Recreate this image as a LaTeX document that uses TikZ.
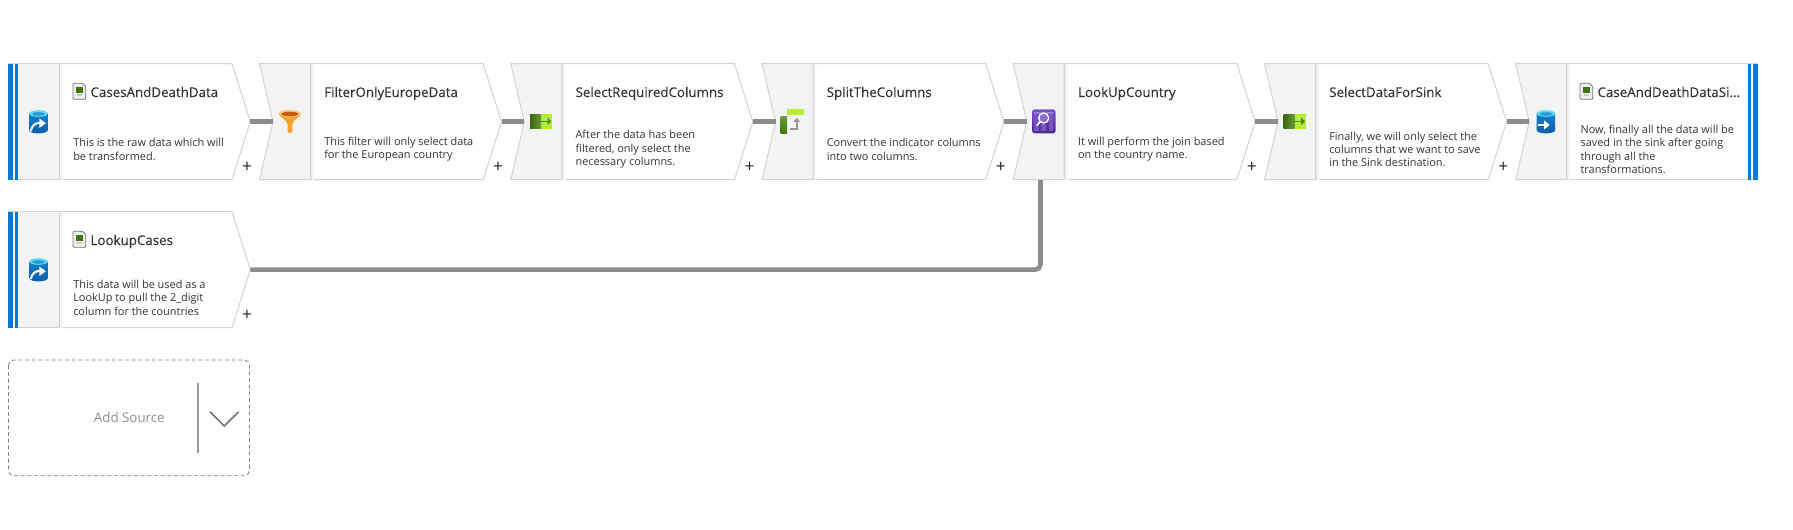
\documentclass[tikz,border=0pt]{standalone}
\usepackage{fontspec}
\setmainfont{Open Sans}
\newfontfamily\titlefont[FakeBold=0.12]{Open Sans}
\usetikzlibrary{arrows.meta}
\definecolor{cardline}{HTML}{D2D2D2}
\definecolor{cardgrey}{HTML}{F3F3F3}
\definecolor{azure}{HTML}{0078D4}
\definecolor{conngrey}{HTML}{8C8C8C}
\definecolor{inktext}{HTML}{333333}
\definecolor{dbblue}{HTML}{0A6FC4}
\definecolor{dbdark}{HTML}{0A5CA8}
\definecolor{dbcyan}{HTML}{5ADCF2}
\definecolor{orng}{HTML}{F8A02B}
\definecolor{orngd}{HTML}{C85A0C}
\definecolor{grdark}{HTML}{4E8A14}
\definecolor{grlight}{HTML}{B4EC36}
\definecolor{purd}{HTML}{4B2A8C}
\definecolor{purm}{HTML}{7A52C4}
\definecolor{purl}{HTML}{A48BE0}
\tikzset{
  x=0.75pt,y=-0.75pt,
  cardshape/.style={draw=cardline,line width=0.75pt,fill=white,line join=round},
  greypart/.style={draw=cardline,line width=0.75pt,fill=cardgrey},
  conn/.style={draw=conngrey,line width=3.4pt},
  cardtitle/.style={anchor=base west,inner sep=0pt,text=inktext,font=\titlefont\fontsize{10pt}{12pt}\selectfont},
  carddesc/.style={anchor=west,inner sep=0pt,text=inktext,align=left,font=\fontsize{8.2pt}{10.05pt}\selectfont},
  plusmark/.style={inner sep=0pt,text=black!85,font=\fontsize{13pt}{13pt}\selectfont},
  csvtext/.style={inner sep=0pt,text=black!60,font=\fontsize{2.2pt}{2.2pt}\selectfont},
}
\newcommand{\bodyglow}{\path[left color=black!7,right color=white] (51.4,0.4) rectangle (54.5,115.6);}
\newcommand{\midcard}[3]{%
 \begin{scope}[shift={(#2,#3)}]
  \draw[cardshape] (51,0) -- (223.7,0) -- (242,58) -- (223.7,116) -- (51,116) -- cycle;
  \bodyglow
  \draw[greypart] (0,0) -- (51,0) -- (51,116) -- (0,116) -- (13.5,58) -- cycle;
  \coordinate (tip#1) at (242,58);
  \coordinate (notch#1) at (13.5,58);
  \node[plusmark] (plus#1) at (238.7,104) {+};
 \end{scope}}
\newcommand{\srccard}[3]{%
 \begin{scope}[shift={(#2,#3)}]
  \draw[cardshape] (51,0) -- (223.7,0) -- (242,58) -- (223.7,116) -- (51,116) -- cycle;
  \bodyglow
  \fill[cardgrey] (0,0) rectangle (51,116);
  \draw[cardline,line width=0.75pt] (0,0) -- (51,0) -- (51,116) -- (0,116);
  \fill[azure] (0,0) rectangle (5,116);
  \fill[azure] (7,0) rectangle (9.4,116);
  \coordinate (tip#1) at (242,58);
  \node[plusmark] (plus#1) at (238.7,104) {+};
 \end{scope}}
\newcommand{\sinkcard}[3]{%
 \begin{scope}[shift={(#2,#3)}]
  \draw[cardshape] (51,0) rectangle (242,116);
  \bodyglow
  \draw[greypart] (0,0) -- (51,0) -- (51,116) -- (0,116) -- (13.5,58) -- cycle;
  \fill[azure] (232.6,0) rectangle (235,116);
  \fill[azure] (237,0) rectangle (242,116);
  \coordinate (notch#1) at (13.5,58);
 \end{scope}}
\newcommand{\dbbody}[2]{%
 \begin{scope}[shift={(#1,#2)}]
  \path[top color=dbblue!85!dbcyan,bottom color=dbdark,draw=none]
    (0,3.5) -- (0,20) .. controls (0,24.5) and (18.5,24.5) .. (18.5,20) -- (18.5,3.5) -- cycle;
  \fill[dbcyan] (9.25,3.5) ellipse [x radius=9.25,y radius=3.3];
  \fill[dbblue!60!dbcyan] (9.25,4) ellipse [x radius=6.5,y radius=1.8];
 \end{scope}}
\newcommand{\dbin}[2]{\dbbody{#1}{#2}%
 \begin{scope}[shift={(#1,#2)}]
  \draw[white,line width=1.5pt] (1.5,21) .. controls (2.5,15) and (7,12.5) .. (11,13);
  \fill[white] (10,8.5) -- (16.5,13.3) -- (10,18) -- cycle;
 \end{scope}}
\newcommand{\dbout}[2]{\dbbody{#1}{#2}%
 \begin{scope}[shift={(#1,#2)}]
  \draw[white,line width=1.2pt] (1,15) -- (9,15);
  \fill[white] (7.5,10.5) -- (13,15) -- (7.5,19.5) -- cycle;
 \end{scope}}
\newcommand{\csvicon}[2]{%
 \begin{scope}[shift={(#1,#2)}]
  \draw[black!55,fill=black!6,line width=0.6pt,rounded corners=0.8] (0,0) -- (9.5,0) -- (12.8,3.3) -- (12.8,16) -- (0,16) -- cycle;
  \fill[grdark!85!black] (2.8,3.3) rectangle (10,9.5);
  \node[csvtext] at (6.4,12.6) {CSV};
 \end{scope}}
\newcommand{\selicon}[2]{%
 \begin{scope}[shift={(#1,#2)}]
  \fill[grlight] (11,0) rectangle (22.3,14.7);
  \path[left color=grdark!75!black,right color=grdark!85!white] (0,0) rectangle (11,14.7);
  \draw[grdark,line width=0.9pt] (11,7.4) -- (19,7.4);
  \fill[grdark] (17.5,3.6) -- (21.3,7.4) -- (17.5,11.2) -- cycle;
 \end{scope}}
\begin{document}
\begin{tikzpicture}
\useasboundingbox (0,0) rectangle (1793,529);
\srccard{A}{8.3}{63.7}
\midcard{B}{259.5}{63.7}
\midcard{C}{510.8}{63.7}
\midcard{D}{762}{63.7}
\midcard{E}{1013.2}{63.7}
\midcard{F}{1264.5}{63.7}
\sinkcard{G}{1515.7}{63.7}
\srccard{H}{8.3}{211.7}
\coordinate (Edown) at (1040.5,180);
\draw[conn,rounded corners=4] (tipH) -- (tipH -| Edown) -- (Edown);
\draw[conn] (tipA) -- (notchB);
\draw[conn] (tipB) -- (notchC);
\draw[conn] (tipC) -- (notchD);
\draw[conn] (tipD) -- (notchE);
\draw[conn] (tipE) -- (notchF);
\draw[conn] (tipF) -- (notchG);
\dbin{29.3}{110}
\dbin{29.3}{258}
\dbout{1536.7}{110}
\csvicon{73}{83.3}
\csvicon{73}{231.3}
\csvicon{1580}{83.3}
% funnel
\fill[orng] (278.7,113.5) .. controls (279,113) and (301,113) .. (301,113.5) .. controls (301,117) and (293.5,119) .. (292.3,124) -- (292.3,132.7) -- (287.5,132.7) -- (287.5,124) .. controls (286.5,119) and (278.7,117) .. (278.7,113.5) -- cycle;
\fill[orng!55!white] (289.85,113.5) ellipse [x radius=11.2,y radius=3.6];
\fill[orngd] (289.85,114) ellipse [x radius=8.5,y radius=2.3];
\selicon{530}{114}
\selicon{1283.7}{114}
% split icon
\path[top color=grdark!85!white,bottom color=grdark!85!black] (780.7,116) rectangle (787,133.3);
\fill[grlight] (787,109.3) rectangle (804,115.4);
\draw[black!40,line width=1.3pt] (790,129.3) -- (796.7,129.3) -- (796.7,121);
\fill[black!40] (793.2,122) -- (796.7,117.8) -- (800.2,122) -- cycle;
% lookup icon
\path[rounded corners=2,top color=purm,bottom color=purd] (1032,109.3) rectangle (1055.7,133.3);
\fill[purl!70!purm] (1034.3,112) rectangle (1053.3,114);
\fill[purm] (1034.3,114) rectangle (1039,130.7);
\fill[purm] (1041.3,114) rectangle (1046.4,130.7);
\fill[purm] (1048.7,114) rectangle (1053.3,130.7);
\fill[purd,opacity=0.35] (1039,114) rectangle (1041.3,130.7);
\fill[purl,opacity=0.5] (1043.7,118) circle [radius=5];
\draw[white,line width=1pt] (1043.7,118) circle [radius=5];
\draw[white,line width=1.2pt] (1040.3,121.7) -- (1036.7,125.5);
% titles
\node[cardtitle] (tA) at (90.3,97) {CasesAndDeathData};
\node[cardtitle] (tB) at (324,97) {FilterOnlyEuropeData};
\node[cardtitle] (tC) at (575.3,97) {SelectRequiredColumns};
\node[cardtitle] (tD) at (826.5,97) {SplitTheColumns};
\node[cardtitle] (tE) at (1077.8,97) {LookUpCountry};
\node[cardtitle] (tF) at (1329,97) {SelectDataForSink};
\node[cardtitle] (tG) at (1597.3,97) {CaseAndDeathDataSi...};
\node[cardtitle] (tH) at (90.3,245) {LookupCases};
% descriptions
\node[carddesc] (dA) at (73,149.3) {This is the raw data which will\\be transformed.};
\node[carddesc] (dB) at (324,149.3) {This filter will only select data\\for the European country};
\node[carddesc] (dC) at (575.3,149.5) {After the data has been\\filtered, only select the\\necessary columns.};
\node[carddesc] (dD) at (826.5,149.3) {Convert the indicator columns\\into two columns.};
\node[carddesc] (dE) at (1077.8,149.3) {It will perform the join based\\on the country name.};
\node[carddesc] (dF) at (1329,149.5) {Finally, we will only select the\\columns that we want to save\\in the Sink destination.};
\node[carddesc] (dG) at (1580.3,149.5) {Now, finally all the data will be\\saved in the sink after going\\through all the\\transformations.};
\node[carddesc] (dH) at (73,297.5) {This data will be used as a\\LookUp to pull the 2\_digit\\column for the countries};
% add source
\draw[black!50,line width=0.6pt,dash pattern=on 3pt off 2pt,rounded corners=4] (8.5,360) rectangle (249.5,475.7);
\coordinate (divtop) at (198,383);
\coordinate (divbot) at (198,453);
\draw[black!40,line width=0.8pt] (divtop) -- (divbot);
\draw[black!55,line width=1.2pt] (210,411.7) -- (224.3,426) -- (238.7,411.7);
\node[inner sep=0pt,text=black!45,font=\fontsize{10pt}{12pt}\selectfont] (addsrc) at (129.3,417) {Add Source};
\end{tikzpicture}
\end{document}
